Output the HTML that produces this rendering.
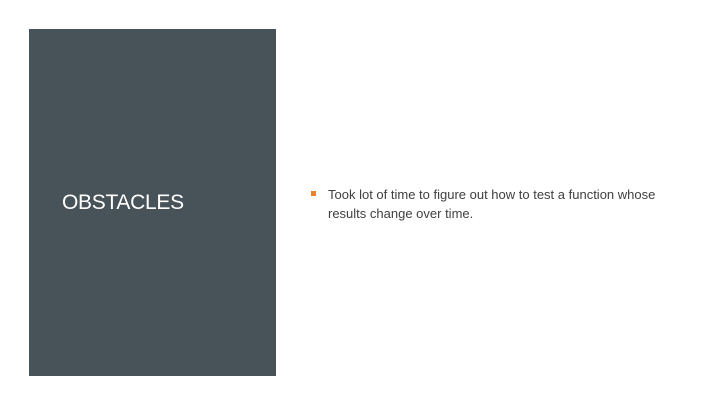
<!DOCTYPE html>
<html><head><meta charset="utf-8"><style>
html,body{margin:0;padding:0;background:#fff;}
body{width:720px;height:405px;position:relative;overflow:hidden;font-family:"Liberation Sans",sans-serif;}
#panel{position:absolute;left:29px;top:29px;width:247px;height:347px;background:#475358;}
#title{position:absolute;left:33px;top:162px;color:#fff;font-size:21px;letter-spacing:-0.3px;line-height:24px;margin:0;font-weight:normal;}
#bullet{position:absolute;left:311px;top:191px;width:5px;height:5px;background:#e8822b;}
#text{position:absolute;left:328px;top:185px;width:360px;font-size:13px;line-height:19px;color:#404040;letter-spacing:0;}
</style></head><body>
<div id="panel">
<h1 id="title">OBSTACLES</h1>
</div>
<div id="bullet"></div>
<div id="text">Took lot of time to figure out how to test a function whose<br>results change over time.</div>
</body></html>
